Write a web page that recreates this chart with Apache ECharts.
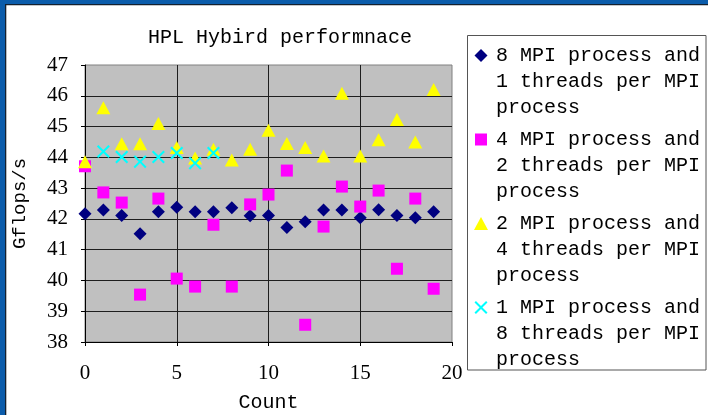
<!DOCTYPE html>
<html>
<head>
<meta charset="utf-8">
<script src="https://cdn.jsdelivr.net/npm/echarts@6/dist/echarts.min.js"></script>
<style>
  html, body { margin: 0; padding: 0; background: #fff; }
  #chart { width: 708px; height: 415px; }
</style>
</head>
<body>
<div id="chart"></div>
<script>
// Run index (x axis)
const counts = [0, 1, 2, 3, 4, 5, 6, 7, 8, 9, 10, 11, 12, 13, 14, 15, 16, 17, 18, 19];

// Gflops/s for each hybrid configuration
const mpi8x1 = [42.17, 42.29, 42.11, 41.52, 42.23, 42.38, 42.23, 42.23, 42.36, 42.10,
                42.11, 41.72, 41.91, 42.29, 42.29, 42.04, 42.30, 42.11, 42.04, 42.23];
const mpi4x2 = [43.71, 42.86, 42.53, 39.54, 42.66, 40.06, 39.80, 41.81, 39.80, 42.47,
                42.79, 43.57, 38.56, 41.75, 43.05, 42.40, 42.92, 40.38, 42.66, 39.73];
const mpi2x4 = [43.86, 45.61, 44.44, 44.44, 45.10, 44.32, 43.98, 44.26, 43.91, 44.26,
                44.88, 44.45, 44.32, 44.04, 46.08, 44.04, 44.57, 45.23, 44.50, 46.20];
const mpi1x8Counts = [1, 2, 3, 4, 5, 6, 7];
const mpi1x8 = [44.19, 44.01, 43.86, 44.01, 44.14, 43.81, 44.14];

const seriesNames = [
  '8 MPI process and\n1 threads per MPI\nprocess',
  '4 MPI process and\n2 threads per MPI\nprocess',
  '2 MPI process and\n4 threads per MPI\nprocess',
  '1 MPI process and\n8 threads per MPI\nprocess'
];

const yTicks = { min: 38, max: 47, step: 1 };
const xTicks = { min: 0, max: 20, step: 5 };

const FONT = '"Liberation Mono", "DejaVu Sans Mono", monospace';
const DIGITS = '"Liberation Serif", "DejaVu Serif", serif';
const COLORS = ['#000080', '#FF00FF', '#FFFF00', '#00FFFF'];
const CROSS = 'path://M0,11L11,0L50,39L89,0L100,11L61,50L100,89L89,100L50,61L11,100L0,89L39,50Z';

const pairs = (xs, ys) => xs.map((x, i) => [x, ys[i]]);

const chart = echarts.init(document.getElementById('chart'), null, { renderer: 'canvas' });

// Legend drawn as a framed block with icons beside the first text line
const legendGraphics = [];
const legendTop = 55.5, legendStep = 84, iconX = 481, textX = 496, lineH = 26.3;
legendGraphics.push({
  type: 'rect', shape: { x: 467.5, y: 35.5, width: 238.5, height: 334.5 },
  style: { fill: '#fff', stroke: '#555', lineWidth: 1 }, z: 1
});
seriesNames.forEach((name, i) => {
  const cy = legendTop + i * legendStep;
  let icon;
  if (i === 0) {
    icon = { type: 'polygon', shape: { points: [[iconX, cy - 6.5], [iconX + 6.5, cy], [iconX, cy + 6.5], [iconX - 6.5, cy]] }, style: { fill: COLORS[0] } };
  } else if (i === 1) {
    icon = { type: 'rect', shape: { x: iconX - 6, y: cy - 6, width: 12, height: 12 }, style: { fill: COLORS[1] } };
  } else if (i === 2) {
    icon = { type: 'polygon', shape: { points: [[iconX, cy - 6.5], [iconX + 7, cy + 6.5], [iconX - 7, cy + 6.5]] }, style: { fill: COLORS[2] } };
  } else {
    const s = 13 / 100, ox = iconX - 6.5, oy = cy - 6.5;
    const pts = [[0,11],[11,0],[50,39],[89,0],[100,11],[61,50],[100,89],[89,100],[50,61],[11,100],[0,89],[39,50]]
      .map(p => [ox + p[0] * s, oy + p[1] * s]);
    icon = { type: 'polygon', shape: { points: pts }, style: { fill: COLORS[3] } };
  }
  icon.z = 2;
  legendGraphics.push(icon);
  legendGraphics.push({
    type: 'text', z: 2,
    style: { text: name, x: textX, y: cy - lineH / 2, font: '20px ' + FONT, fill: '#000', lineHeight: lineH, verticalAlign: 'top' }
  });
});

// Window frame along the left and top edges
const frame = [
  { type: 'rect', shape: { x: 0, y: 0, width: 5, height: 415 }, style: { fill: '#0B5CAB' }, z: 10 },
  { type: 'rect', shape: { x: 0, y: 0, width: 708, height: 4 }, style: { fill: '#0B5CAB' }, z: 10 },
  { type: 'rect', shape: { x: 5, y: 4, width: 1.3, height: 411 }, style: { fill: '#14202e' }, z: 10 },
  { type: 'rect', shape: { x: 5, y: 4, width: 703, height: 1.2 }, style: { fill: '#14202e' }, z: 10 }
];

const axisText = { fontFamily: FONT, color: '#000' };
const tickText = { fontFamily: DIGITS, color: '#000', fontSize: 21 };

chart.setOption({
  animation: false,
  backgroundColor: '#fff',
  title: {
    text: 'HPL Hybird performnace',
    left: 143, top: 23,
    textStyle: { fontFamily: FONT, fontSize: 20, fontWeight: 'normal', color: '#000' }
  },
  grid: {
    left: 85, top: 65, width: 367, height: 277,
    outerBoundsMode: 'none', containLabel: false,
    show: true, backgroundColor: '#C0C0C0', borderColor: '#808080', borderWidth: 1
  },
  xAxis: {
    type: 'value', min: xTicks.min, max: xTicks.max, interval: xTicks.step,
    name: 'Count', nameLocation: 'middle', nameGap: 51,
    nameTextStyle: Object.assign({ fontSize: 20 }, axisText),
    axisLine: { show: true, lineStyle: { color: '#000', width: 1 } },
    axisTick: { show: true, length: 4, lineStyle: { color: '#000' } },
    axisLabel: Object.assign({ margin: 21 }, tickText),
    splitLine: { show: true, showMinLine: false, showMaxLine: false, lineStyle: { color: '#1e1e1e', width: 1 } }
  },
  yAxis: {
    type: 'value', min: yTicks.min, max: yTicks.max, interval: yTicks.step,
    name: 'Gflops/s', nameLocation: 'middle', nameGap: 56,
    nameTextStyle: Object.assign({ fontSize: 19 }, axisText),
    axisLine: { show: true, lineStyle: { color: '#000', width: 1 } },
    axisTick: { show: true, length: 4, lineStyle: { color: '#000' } },
    axisLabel: Object.assign({ margin: 17 }, tickText),
    splitLine: { show: true, showMinLine: false, showMaxLine: false, lineStyle: { color: '#1e1e1e', width: 1 } }
  },
  series: [
    { name: seriesNames[0], type: 'scatter', symbol: 'diamond', symbolSize: [13, 13],
      itemStyle: { color: COLORS[0], opacity: 1 }, data: pairs(counts, mpi8x1) },
    { name: seriesNames[1], type: 'scatter', symbol: 'rect', symbolSize: [12, 12],
      itemStyle: { color: COLORS[1], opacity: 1 }, data: pairs(counts, mpi4x2) },
    { name: seriesNames[2], type: 'scatter', symbol: 'triangle', symbolSize: [14, 13],
      itemStyle: { color: COLORS[2], opacity: 1 }, data: pairs(counts, mpi2x4) },
    { name: seriesNames[3], type: 'scatter', symbol: CROSS, symbolSize: [13, 13],
      itemStyle: { color: COLORS[3], opacity: 1 }, data: pairs(mpi1x8Counts, mpi1x8) }
  ],
  graphic: legendGraphics.concat(frame)
});
</script>
</body>
</html>
